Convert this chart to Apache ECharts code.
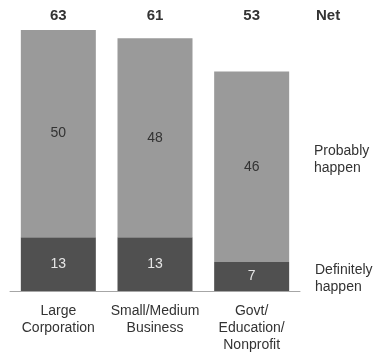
<!DOCTYPE html>
<html>
<head>
<meta charset="utf-8">
<script src="https://cdn.jsdelivr.net/npm/echarts@6/dist/echarts.min.js"></script>
<style>html,body{margin:0;padding:0;background:#fff;}#c{width:386px;height:355px;}</style>
</head>
<body>
<div id="c"></div>
<script>
var categories = ['Large\nCorporation', 'Small/Medium\nBusiness', 'Govt/\nEducation/\nNonprofit'];
var definitely = [13, 13, 7];
var probably = [50, 48, 46];
var net = [63, 61, 53];
var seriesNames = ['Definitely\nhappen', 'Probably\nhappen'];

var font = 'Liberation Sans';
var chart = echarts.init(document.getElementById('c'), null, {renderer: 'canvas'});
chart.setOption({
  animation: false,
  backgroundColor: '#fff',
  grid: {left: 10, right: 86, top: 30, bottom: 64},
  xAxis: [{
    type: 'category', data: categories, position: 'bottom',
    axisLine: {lineStyle: {color: '#a6a6a6', width: 1}},
    axisTick: {show: false},
    axisLabel: {fontFamily: font, fontSize: 14, color: '#333', lineHeight: 17, margin: 12, interval: 0}
  }, {
    type: 'category', data: net.map(String), position: 'top',
    axisLine: {show: false}, axisTick: {show: false},
    axisLabel: {fontFamily: font, fontSize: 15, fontWeight: 'bold', color: '#333', margin: 7, interval: 0}
  }],
  yAxis: {type: 'value', min: 0, max: 63, show: false, splitLine: {show: false}},
  series: [{
    name: seriesNames[0], type: 'bar', stack: 't', data: definitely, barWidth: 75,
    itemStyle: {color: '#505050'},
    label: {show: true, position: 'inside', color: '#e6e6e6', fontFamily: font, fontSize: 14}
  }, {
    name: seriesNames[1], type: 'bar', stack: 't', data: probably, barWidth: 75,
    itemStyle: {color: '#9a9a9a'},
    label: {show: true, position: 'inside', color: '#333', fontFamily: font, fontSize: 14}
  }],
  graphic: [
    {type: 'text', left: 316, top: 8, style: {text: 'Net', font: 'bold 15px ' + font, fill: '#333'}},
    {type: 'text', left: 314, top: 143, style: {text: seriesNames[1], font: '14px ' + font, fill: '#333', lineHeight: 17}},
    {type: 'text', left: 315, top: 262, style: {text: seriesNames[0], font: '14px ' + font, fill: '#333', lineHeight: 17}}
  ]
});
</script>
</body>
</html>
